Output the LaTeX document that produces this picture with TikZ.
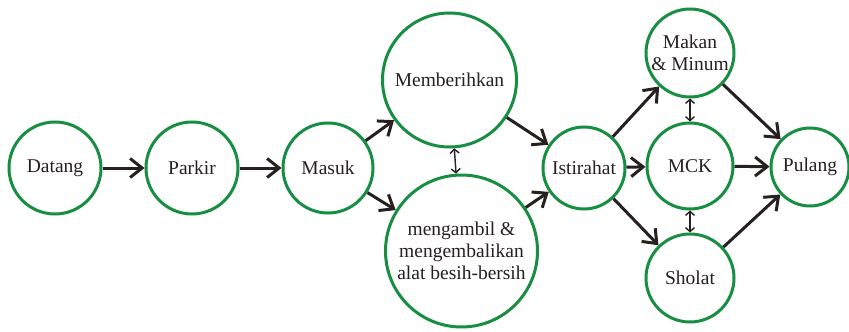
\documentclass[tikz,border=0pt]{standalone}
\usepackage{fontspec}
\setmainfont{Liberation Serif}
\usetikzlibrary{arrows.meta}
\definecolor{ringgreen}{RGB}{24,142,66}
\definecolor{inkdark}{RGB}{38,32,32}
\tikzset{
  stage/.style={circle, draw=ringgreen, line width=3pt, fill=white, inner sep=0pt,
    align=center, text=inkdark, font=\fontsize{19.5}{22}\selectfont},
  flow/.style={draw=inkdark, line width=3pt,
    -{Straight Barb[length=12pt,width=19pt,line width=3pt]}},
  link/.style={draw=inkdark, line width=1.4pt,
    {Straight Barb[length=4pt,width=9pt,line width=1.4pt]}-{Straight Barb[length=4pt,width=9pt,line width=1.4pt]}}
}
\begin{document}
\begin{tikzpicture}[x=1pt,y=-1pt]
\path[use as bounding box, fill=white] (0,0) rectangle (849,332);

% stages of the visit
\node[stage, minimum size=92pt]  (datang) at (55,168)    {Datang};
\node[stage, minimum size=92pt]  (parkir) at (192,168)   {Parkir};
\node[stage, minimum size=90pt]  (masuk)  at (328,168)   {Masuk};
\node[stage, minimum size=134pt] (memb)   at (449.5,80)  {Memberihkan};
\node[stage, minimum size=152pt] (meng)   at (461.5,251) {mengambil \&\\mengembalikan\\alat besih-bersih};
\node[stage, minimum size=82pt]  (istir)  at (584,168)   {Istirahat};
\node[stage, minimum size=88pt]  (makan)  at (690,53)    {Makan\\\& Minum};
\node[stage, minimum size=86pt]  (mck)    at (690,166)   {MCK};
\node[stage, minimum size=88pt]  (sholat) at (690,278)   {Sholat};
\node[stage, minimum size=78pt]  (pulang) at (810,167)   {Pulang};

% main flow
\draw[flow] (datang) -- (parkir);
\draw[flow] (parkir) -- (masuk);
\draw[flow] (masuk) -- (memb);
\draw[flow] (masuk) -- (meng);
\draw[flow] (memb) -- (istir);
\draw[flow] (meng) -- (istir);
\draw[flow] (istir) -- (makan);
\draw[flow] (istir) -- (mck);
\draw[flow] (istir) -- (sholat);
\draw[flow] (makan) -- (pulang);
\draw[flow] (mck) -- (pulang);
\draw[flow] (sholat) -- (pulang);

% two-way links between parallel activities
\draw[link] (memb) -- (meng);
\draw[link] (makan) -- (mck);
\draw[link] (mck) -- (sholat);
\end{tikzpicture}
\end{document}
